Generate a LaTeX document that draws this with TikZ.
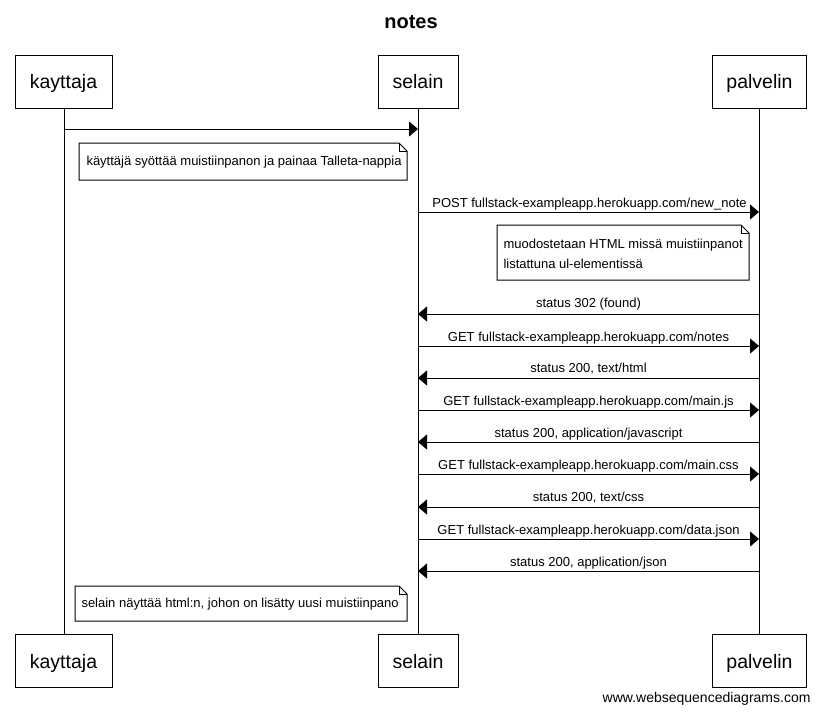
\documentclass[tikz,border=0pt]{standalone}
\usepackage{fontspec}
\setmainfont{Liberation Sans}
\usetikzlibrary{arrows.meta}
\begin{document}
\begin{tikzpicture}[x=1pt,y=-1pt,
  line width=1pt,
  actor/.style={draw,fill=white,minimum width=#1,minimum height=53pt,inner sep=0pt,
    text height=14pt,text depth=0pt,font=\fontsize{19.5}{22}\selectfont},
  msg/.style={-{Triangle[length=9pt,width=15pt]}},
  lbl/.style={font=\fontsize{13}{15}\selectfont,inner sep=0pt,anchor=base},
  notetext/.style={font=\fontsize{13}{20}\selectfont,inner sep=0pt,anchor=base west,align=left}]
\useasboundingbox (0,0) rectangle (820,713);
\fill[white] (0,0) rectangle (820,713);
% title
\node[font=\bfseries\fontsize{20}{24}\selectfont,inner sep=0pt] (title) at (411,22) {notes};
% lifelines
\coordinate (k1) at (64,108); \coordinate (k2) at (64,634);
\coordinate (s1) at (418,108); \coordinate (s2) at (418,634);
\coordinate (p1) at (759,108); \coordinate (p2) at (759,634);
\draw (k1) -- (k2); \draw (s1) -- (s2); \draw (p1) -- (p2);
% participants, top and bottom
\node[actor=97pt] (kt) at (63.5,81.5) {kayttaja};
\node[actor=80pt] (st) at (418,81.5) {selain};
\node[actor=94pt] (pt) at (759.5,81.5) {palvelin};
\node[actor=97pt] (kb) at (63.5,661) {kayttaja};
\node[actor=80pt] (sb) at (418,661) {selain};
\node[actor=94pt] (pb) at (759.5,661) {palvelin};
% note shapes with a folded corner
\newcommand{\notebox}[4]{%
  \draw[fill=white] (#1,#2) -- (#3-8,#2) -- (#3,#2+8) -- (#3,#4) -- (#1,#4) -- cycle;
  \draw (#3-8,#2) -- (#3-8,#2+8) -- (#3,#2+8);}
% messages
\coordinate (m1k) at (64,129); \coordinate (m1s) at (418,129);
\draw[msg] (m1k) -- (m1s);
\notebox{79}{143}{407}{180}
\node[notetext] (n1) at (86,165) {käyttäjä syöttää muistiinpanon ja painaa Talleta-nappia};
\coordinate (a1) at (418,212); \coordinate (b1) at (759,212);
\draw[msg] (a1) -- (b1);
\node[lbl] (l1) at (589.5,207) {POST fullstack-exampleapp.herokuapp.com/new\_note};
\notebox{497}{225}{749}{280}
\node[notetext] (n2) at (503,268) {muodostetaan HTML missä muistiinpanot\\listattuna ul-elementissä};
\coordinate (a2) at (759,314); \coordinate (b2) at (418,314);
\draw[msg] (a2) -- (b2);
\node[lbl] (l2) at (588.5,307) {status 302 (found)};
\coordinate (a3) at (418,346); \coordinate (b3) at (759,346);
\draw[msg] (a3) -- (b3);
\node[lbl] (l3) at (588.5,341) {GET fullstack-exampleapp.herokuapp.com/notes};
\coordinate (a4) at (759,378); \coordinate (b4) at (418,378);
\draw[msg] (a4) -- (b4);
\node[lbl] (l4) at (588.5,372) {status 200, text/html};
\coordinate (a5) at (418,410); \coordinate (b5) at (759,410);
\draw[msg] (a5) -- (b5);
\node[lbl] (l5) at (588.5,405) {GET fullstack-exampleapp.herokuapp.com/main.js};
\coordinate (a6) at (759,442); \coordinate (b6) at (418,442);
\draw[msg] (a6) -- (b6);
\node[lbl] (l6) at (588.5,437) {status 200, application/javascript};
\coordinate (a7) at (418,474); \coordinate (b7) at (759,474);
\draw[msg] (a7) -- (b7);
\node[lbl] (l7) at (588.5,469) {GET fullstack-exampleapp.herokuapp.com/main.css};
\coordinate (a8) at (759,507); \coordinate (b8) at (418,507);
\draw[msg] (a8) -- (b8);
\node[lbl] (l8) at (588.5,501) {status 200, text/css};
\coordinate (a9) at (418,539); \coordinate (b9) at (759,539);
\draw[msg] (a9) -- (b9);
\node[lbl] (l9) at (588.5,534) {GET fullstack-exampleapp.herokuapp.com/data.json};
\coordinate (a10) at (759,571); \coordinate (b10) at (418,571);
\draw[msg] (a10) -- (b10);
\node[lbl] (l10) at (588.5,566) {status 200, application/json};
\notebox{75}{586}{407}{621}
\node[notetext] (n3) at (81,607) {selain näyttää html:n, johon on lisätty uusi muistiinpano};
% footer
\node[font=\fontsize{14}{16}\selectfont,inner sep=0pt,anchor=base east] (www) at (811,702) {www.websequencediagrams.com};
\end{tikzpicture}
\end{document}
